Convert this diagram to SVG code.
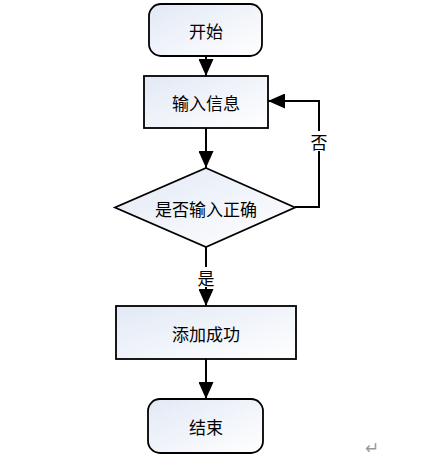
<svg xmlns="http://www.w3.org/2000/svg" width="425" height="470" viewBox="0 0 425 470">
<defs>
<linearGradient id="g" x1="0" y1="0" x2="1" y2="1">
<stop offset="0" stop-color="#e2e9f5"/>
<stop offset="1" stop-color="#ffffff"/>
</linearGradient>
<marker id="a" viewBox="0 0 17 15" refX="17" refY="7.5" markerWidth="17" markerHeight="15" markerUnits="userSpaceOnUse" orient="auto">
<path d="M0,0 L17,7.5 L0,15 Z" fill="#000"/>
</marker>
</defs>
<style>
.n{fill:url(#g);stroke:#000;stroke-width:1.8}
.t{font-family:"Noto Sans CJK SC","Liberation Sans",sans-serif;font-size:17px;fill:#000;text-anchor:middle;dominant-baseline:central}
.e{fill:none;stroke:#000;stroke-width:2}
</style>
<rect width="425" height="470" fill="#fff"/>
<g id="edges">
<line class="e" x1="206" y1="56" x2="206" y2="76" marker-end="url(#a)"/>
<line class="e" x1="206" y1="128" x2="206" y2="168" marker-end="url(#a)"/>
<polyline class="e" points="295,207 319,207 319,101 268,101" marker-end="url(#a)"/>
<line class="e" x1="206" y1="247" x2="206" y2="306" marker-end="url(#a)"/>
<line class="e" x1="206" y1="359" x2="206" y2="399" marker-end="url(#a)"/>
<rect x="309" y="131" width="20" height="20" fill="#fff"/>
<text class="t" x="319" y="141">否</text>
<rect x="196" y="267" width="20" height="20" fill="#fff"/>
<text class="t" x="206" y="277">是</text>
</g>
<g id="start">
<rect class="n" x="149" y="4" width="113" height="52" rx="12"/>
<text class="t" x="206" y="30">开始</text>
</g>
<g id="input">
<rect class="n" x="144" y="76" width="124" height="52"/>
<text class="t" x="206" y="102">输入信息</text>
</g>
<g id="check">
<polygon class="n" points="206,168 295,207.5 206,247 115,207.5"/>
<text class="t" x="206" y="208">是否输入正确</text>
</g>
<g id="success">
<rect class="n" x="116" y="306" width="180" height="53"/>
<text class="t" x="206" y="333">添加成功</text>
</g>
<g id="end">
<rect class="n" x="148" y="399" width="115" height="54" rx="12"/>
<text class="t" x="206" y="426">结束</text>
</g>
<text x="372" y="454" font-family="'DejaVu Sans',sans-serif" font-size="17" fill="#999" text-anchor="middle">↵</text>
</svg>
